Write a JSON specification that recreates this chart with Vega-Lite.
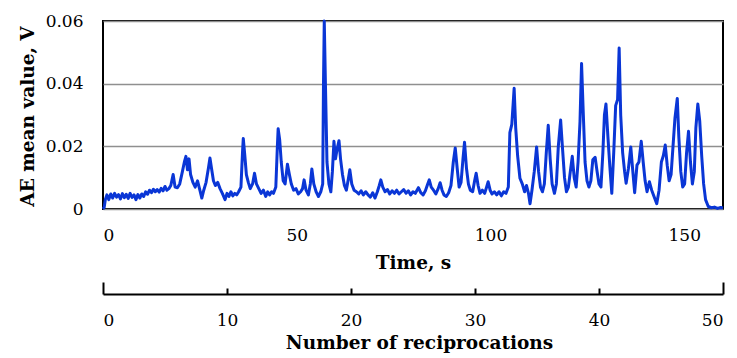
{
  "$schema": "https://vega.github.io/schema/vega-lite/v6.json",
  "width": 620,
  "height": 188,
  "autosize": {"type": "none"},
  "padding": {"left": 103, "top": 21, "right": 14, "bottom": 149},
  "background": "white",
  "config": {
    "view": {"stroke": "black", "strokeWidth": 2},
    "axis": {
      "labelFont": "DejaVu Serif",
      "labelFontSize": 17,
      "labelColor": "black",
      "titleFont": "DejaVu Serif",
      "titleFontSize": 18.5,
      "titleFontWeight": "bold",
      "titleColor": "black"
    }
  },
  "datasets": {
    "ae": [
      {"t": 0, "v": 0}, {"t": 0.3, "v": 0.0005}, {"t": 0.6, "v": 0.003}, {"t": 1.0, "v": 0.0045},
      {"t": 1.5, "v": 0.003}, {"t": 2.0, "v": 0.0048}, {"t": 2.5, "v": 0.0035}, {"t": 3.0, "v": 0.005},
      {"t": 3.5, "v": 0.0038}, {"t": 4.0, "v": 0.0046}, {"t": 4.5, "v": 0.0032}, {"t": 5.0, "v": 0.0049},
      {"t": 5.5, "v": 0.0036}, {"t": 6.0, "v": 0.0047}, {"t": 6.5, "v": 0.0034}, {"t": 7.0, "v": 0.005},
      {"t": 7.5, "v": 0.0037}, {"t": 8.0, "v": 0.0045}, {"t": 8.5, "v": 0.003}, {"t": 9.0, "v": 0.0046},
      {"t": 9.5, "v": 0.0035}, {"t": 10.0, "v": 0.0048}, {"t": 10.5, "v": 0.004}, {"t": 11.0, "v": 0.0055},
      {"t": 11.5, "v": 0.0047}, {"t": 12.0, "v": 0.006}, {"t": 12.5, "v": 0.0052}, {"t": 13.0, "v": 0.0063},
      {"t": 13.5, "v": 0.0055}, {"t": 14.0, "v": 0.0062}, {"t": 14.5, "v": 0.0054}, {"t": 15.0, "v": 0.0066},
      {"t": 15.5, "v": 0.0058}, {"t": 16.0, "v": 0.0072}, {"t": 16.5, "v": 0.006}, {"t": 17.0, "v": 0.0065},
      {"t": 17.5, "v": 0.0075}, {"t": 18.1, "v": 0.011}, {"t": 18.6, "v": 0.007}, {"t": 19.2, "v": 0.0068},
      {"t": 19.8, "v": 0.008}, {"t": 20.5, "v": 0.012}, {"t": 21.0, "v": 0.015}, {"t": 21.4, "v": 0.0168},
      {"t": 21.8, "v": 0.0125}, {"t": 22.2, "v": 0.016}, {"t": 22.6, "v": 0.011}, {"t": 23.2, "v": 0.0085},
      {"t": 23.8, "v": 0.007}, {"t": 24.4, "v": 0.009}, {"t": 25.0, "v": 0.006}, {"t": 25.5, "v": 0.0035},
      {"t": 26.0, "v": 0.006}, {"t": 26.6, "v": 0.0085}, {"t": 27.2, "v": 0.013}, {"t": 27.6, "v": 0.0163},
      {"t": 28.0, "v": 0.013}, {"t": 28.5, "v": 0.009}, {"t": 29.0, "v": 0.0075}, {"t": 29.6, "v": 0.0085},
      {"t": 30.2, "v": 0.0065}, {"t": 30.8, "v": 0.005}, {"t": 31.5, "v": 0.003}, {"t": 32.0, "v": 0.005},
      {"t": 32.5, "v": 0.004}, {"t": 33.0, "v": 0.0055}, {"t": 33.5, "v": 0.0042}, {"t": 34.0, "v": 0.005},
      {"t": 34.5, "v": 0.0045}, {"t": 35.0, "v": 0.0055}, {"t": 35.6, "v": 0.007}, {"t": 36.0, "v": 0.018},
      {"t": 36.2, "v": 0.0225}, {"t": 36.6, "v": 0.017}, {"t": 37.0, "v": 0.011}, {"t": 37.5, "v": 0.0085},
      {"t": 38.0, "v": 0.0065}, {"t": 38.6, "v": 0.008}, {"t": 39.1, "v": 0.0114}, {"t": 39.6, "v": 0.008},
      {"t": 40.2, "v": 0.0065}, {"t": 40.8, "v": 0.005}, {"t": 41.4, "v": 0.006}, {"t": 42.0, "v": 0.004},
      {"t": 42.5, "v": 0.0055}, {"t": 43.0, "v": 0.0045}, {"t": 43.5, "v": 0.0055}, {"t": 44.0, "v": 0.005},
      {"t": 44.6, "v": 0.007}, {"t": 45.0, "v": 0.02}, {"t": 45.2, "v": 0.0256}, {"t": 45.6, "v": 0.022},
      {"t": 46.0, "v": 0.015}, {"t": 46.5, "v": 0.009}, {"t": 47.0, "v": 0.008}, {"t": 47.6, "v": 0.0143},
      {"t": 48.1, "v": 0.011}, {"t": 48.6, "v": 0.008}, {"t": 49.2, "v": 0.006}, {"t": 49.8, "v": 0.0065},
      {"t": 50.4, "v": 0.0048}, {"t": 51.0, "v": 0.0055}, {"t": 51.5, "v": 0.0065}, {"t": 51.9, "v": 0.0093},
      {"t": 52.4, "v": 0.006}, {"t": 53.0, "v": 0.0045}, {"t": 53.5, "v": 0.008}, {"t": 53.9, "v": 0.0128},
      {"t": 54.4, "v": 0.008}, {"t": 55.0, "v": 0.0055}, {"t": 55.6, "v": 0.004}, {"t": 56.2, "v": 0.0055},
      {"t": 56.7, "v": 0.008}, {"t": 56.9, "v": 0.04}, {"t": 57.1, "v": 0.06}, {"t": 57.4, "v": 0.04},
      {"t": 57.8, "v": 0.015}, {"t": 58.3, "v": 0.008}, {"t": 58.8, "v": 0.0055}, {"t": 59.2, "v": 0.012},
      {"t": 59.6, "v": 0.0216}, {"t": 60.0, "v": 0.016}, {"t": 60.4, "v": 0.019}, {"t": 60.9, "v": 0.0218},
      {"t": 61.3, "v": 0.016}, {"t": 61.8, "v": 0.011}, {"t": 62.3, "v": 0.0075}, {"t": 62.8, "v": 0.006},
      {"t": 63.3, "v": 0.0095}, {"t": 63.7, "v": 0.0125}, {"t": 64.2, "v": 0.008}, {"t": 64.8, "v": 0.006},
      {"t": 65.4, "v": 0.0055}, {"t": 66.0, "v": 0.0048}, {"t": 66.6, "v": 0.0058}, {"t": 67.2, "v": 0.0045},
      {"t": 67.8, "v": 0.0055}, {"t": 68.4, "v": 0.0045}, {"t": 69.0, "v": 0.0038}, {"t": 69.6, "v": 0.0052},
      {"t": 70.2, "v": 0.0035}, {"t": 70.8, "v": 0.0055}, {"t": 71.3, "v": 0.0075}, {"t": 71.7, "v": 0.0093},
      {"t": 72.2, "v": 0.007}, {"t": 72.8, "v": 0.0055}, {"t": 73.4, "v": 0.0062}, {"t": 74.0, "v": 0.0048},
      {"t": 74.6, "v": 0.0058}, {"t": 75.2, "v": 0.005}, {"t": 75.8, "v": 0.006}, {"t": 76.4, "v": 0.0048},
      {"t": 77.0, "v": 0.0055}, {"t": 77.6, "v": 0.0062}, {"t": 78.2, "v": 0.005}, {"t": 78.8, "v": 0.0058},
      {"t": 79.4, "v": 0.0045}, {"t": 80.0, "v": 0.0055}, {"t": 80.6, "v": 0.005}, {"t": 81.4, "v": 0.0068},
      {"t": 82.0, "v": 0.0052}, {"t": 82.6, "v": 0.0045}, {"t": 83.2, "v": 0.0058}, {"t": 83.8, "v": 0.008},
      {"t": 84.2, "v": 0.0093}, {"t": 84.7, "v": 0.007}, {"t": 85.3, "v": 0.006}, {"t": 85.9, "v": 0.0048},
      {"t": 86.5, "v": 0.0065}, {"t": 87.0, "v": 0.0084}, {"t": 87.5, "v": 0.006}, {"t": 88.0, "v": 0.0045},
      {"t": 88.6, "v": 0.004}, {"t": 89.2, "v": 0.0052}, {"t": 89.8, "v": 0.0075}, {"t": 90.4, "v": 0.015},
      {"t": 90.9, "v": 0.0195}, {"t": 91.4, "v": 0.013}, {"t": 91.9, "v": 0.007}, {"t": 92.4, "v": 0.0085},
      {"t": 92.9, "v": 0.016}, {"t": 93.3, "v": 0.0213}, {"t": 93.8, "v": 0.013}, {"t": 94.3, "v": 0.008},
      {"t": 94.8, "v": 0.006}, {"t": 95.4, "v": 0.0055}, {"t": 95.9, "v": 0.009}, {"t": 96.3, "v": 0.0114},
      {"t": 96.8, "v": 0.0075}, {"t": 97.3, "v": 0.005}, {"t": 97.9, "v": 0.006}, {"t": 98.5, "v": 0.005},
      {"t": 99.0, "v": 0.007}, {"t": 99.4, "v": 0.0087}, {"t": 99.9, "v": 0.006}, {"t": 100.4, "v": 0.0048},
      {"t": 101.0, "v": 0.0055}, {"t": 101.6, "v": 0.0045}, {"t": 102.2, "v": 0.0055}, {"t": 102.8, "v": 0.0042},
      {"t": 103.4, "v": 0.0055}, {"t": 104.0, "v": 0.005}, {"t": 104.6, "v": 0.007}, {"t": 105.0, "v": 0.0244},
      {"t": 105.5, "v": 0.027}, {"t": 106.1, "v": 0.0385}, {"t": 106.5, "v": 0.026}, {"t": 107.0, "v": 0.017},
      {"t": 107.6, "v": 0.0098}, {"t": 108.2, "v": 0.008}, {"t": 108.8, "v": 0.0055}, {"t": 109.3, "v": 0.0075},
      {"t": 109.8, "v": 0.005}, {"t": 110.2, "v": 0.0017}, {"t": 110.7, "v": 0.006}, {"t": 111.3, "v": 0.012},
      {"t": 111.9, "v": 0.0198}, {"t": 112.4, "v": 0.012}, {"t": 112.9, "v": 0.007}, {"t": 113.4, "v": 0.0055},
      {"t": 113.9, "v": 0.008}, {"t": 114.4, "v": 0.018}, {"t": 114.9, "v": 0.0267}, {"t": 115.4, "v": 0.016},
      {"t": 115.9, "v": 0.008}, {"t": 116.5, "v": 0.005}, {"t": 117.0, "v": 0.008}, {"t": 117.5, "v": 0.02},
      {"t": 118.1, "v": 0.0284}, {"t": 118.6, "v": 0.019}, {"t": 119.1, "v": 0.01}, {"t": 119.6, "v": 0.0055},
      {"t": 120.1, "v": 0.007}, {"t": 120.6, "v": 0.012}, {"t": 121.1, "v": 0.0168}, {"t": 121.6, "v": 0.01},
      {"t": 122.1, "v": 0.007}, {"t": 122.6, "v": 0.015}, {"t": 123.1, "v": 0.028}, {"t": 123.5, "v": 0.0464},
      {"t": 123.9, "v": 0.032}, {"t": 124.4, "v": 0.015}, {"t": 124.9, "v": 0.009}, {"t": 125.4, "v": 0.007},
      {"t": 125.9, "v": 0.009}, {"t": 126.4, "v": 0.0157}, {"t": 127.0, "v": 0.0165}, {"t": 127.5, "v": 0.012},
      {"t": 128.0, "v": 0.008}, {"t": 128.5, "v": 0.007}, {"t": 129.0, "v": 0.018}, {"t": 129.4, "v": 0.03},
      {"t": 129.8, "v": 0.0335}, {"t": 130.3, "v": 0.023}, {"t": 130.8, "v": 0.0135}, {"t": 131.3, "v": 0.005},
      {"t": 131.8, "v": 0.018}, {"t": 132.3, "v": 0.033}, {"t": 132.8, "v": 0.035}, {"t": 133.2, "v": 0.0514},
      {"t": 133.6, "v": 0.03}, {"t": 134.1, "v": 0.018}, {"t": 134.6, "v": 0.012}, {"t": 135.0, "v": 0.0082},
      {"t": 135.6, "v": 0.013}, {"t": 136.2, "v": 0.0198}, {"t": 136.8, "v": 0.011}, {"t": 137.2, "v": 0.0052},
      {"t": 137.8, "v": 0.014}, {"t": 138.3, "v": 0.015}, {"t": 138.9, "v": 0.0216}, {"t": 139.4, "v": 0.015},
      {"t": 139.9, "v": 0.009}, {"t": 140.4, "v": 0.0055}, {"t": 141.0, "v": 0.0087}, {"t": 141.6, "v": 0.006},
      {"t": 142.2, "v": 0.004}, {"t": 142.9, "v": 0.0017}, {"t": 143.5, "v": 0.006}, {"t": 144.1, "v": 0.015},
      {"t": 144.6, "v": 0.017}, {"t": 145.1, "v": 0.0204}, {"t": 145.6, "v": 0.014}, {"t": 146.1, "v": 0.009},
      {"t": 146.6, "v": 0.011}, {"t": 147.1, "v": 0.02}, {"t": 147.6, "v": 0.029}, {"t": 148.2, "v": 0.0353},
      {"t": 148.6, "v": 0.023}, {"t": 149.1, "v": 0.012}, {"t": 149.6, "v": 0.007}, {"t": 150.1, "v": 0.008},
      {"t": 150.6, "v": 0.018}, {"t": 151.1, "v": 0.0248}, {"t": 151.6, "v": 0.015}, {"t": 152.1, "v": 0.008},
      {"t": 152.6, "v": 0.012}, {"t": 153.0, "v": 0.026}, {"t": 153.5, "v": 0.0335}, {"t": 154.0, "v": 0.028},
      {"t": 154.5, "v": 0.017}, {"t": 155.0, "v": 0.008}, {"t": 155.5, "v": 0.003}, {"t": 156.2, "v": 0.0008},
      {"t": 157.0, "v": 0.0004}, {"t": 157.8, "v": 0.0006}, {"t": 158.6, "v": 0.0002}, {"t": 159.4, "v": 0.0005},
      {"t": 160.0, "v": 0.0003}
    ],
    "reciprocations": [{"n": 0}, {"n": 50}]
  },
  "layer": [
    {
      "data": {"name": "ae"},
      "mark": {"type": "line", "color": "#0a36d6", "strokeWidth": 3, "strokeJoin": "round"},
      "encoding": {
        "x": {
          "field": "t",
          "type": "quantitative",
          "scale": {"domain": [0, 160], "nice": false},
          "axis": {
            "title": "Time, s",
            "values": [0, 50, 100, 150],
            "grid": false,
            "domain": false,
            "ticks": false,
            "tickSize": 0,
            "labelPadding": 18,
            "titleY": 53,
            "titleBaseline": "middle"
          }
        },
        "y": {
          "field": "v",
          "type": "quantitative",
          "scale": {"domain": [0, 0.06], "nice": false},
          "axis": {
            "title": "AE mean value, V",
            "values": [0, 0.02, 0.04, 0.06],
            "labelExpr": "datum.value === 0 ? '0' : format(datum.value, '.2f')",
            "grid": true,
            "gridColor": "#8f8f8f",
            "gridWidth": 1.4,
            "domain": false,
            "ticks": false,
            "tickSize": 0,
            "labelPadding": 20,
            "titleX": -76,
            "titleY": 95,
            "titleAngle": -90,
            "titleAlign": "center",
            "titleBaseline": "middle"
          }
        }
      }
    },
    {
      "data": {"name": "reciprocations"},
      "mark": {"type": "point", "opacity": 0},
      "encoding": {
        "x": {
          "field": "n",
          "type": "quantitative",
          "scale": {"domain": [0, 50], "nice": false},
          "axis": {
            "orient": "top",
            "offset": -273,
            "title": null,
            "labels": false,
            "values": [0, 10, 20, 30, 40, 50],
            "grid": false,
            "domainColor": "black",
            "domainWidth": 2,
            "tickColor": "black",
            "tickWidth": 2,
            "tickSize": {"condition": {"test": "datum.value === 0 || datum.value === 50", "value": 12}, "value": 6}
          }
        }
      }
    },
    {
      "data": {"name": "reciprocations"},
      "mark": {"type": "point", "opacity": 0},
      "encoding": {
        "x": {
          "field": "n",
          "type": "quantitative",
          "scale": {"domain": [0, 50], "nice": false},
          "axis": {
            "orient": "bottom",
            "offset": 85,
            "title": "Number of reciprocations",
            "values": [0, 10, 20, 30, 40, 50],
            "grid": false,
            "domain": false,
            "ticks": false,
            "tickSize": 0,
            "labelPadding": 18,
            "titleY": 48,
            "titleX": 316,
            "titleBaseline": "middle"
          }
        }
      }
    }
  ],
  "resolve": {"scale": {"x": "independent"}, "axis": {"x": "independent"}}
}
